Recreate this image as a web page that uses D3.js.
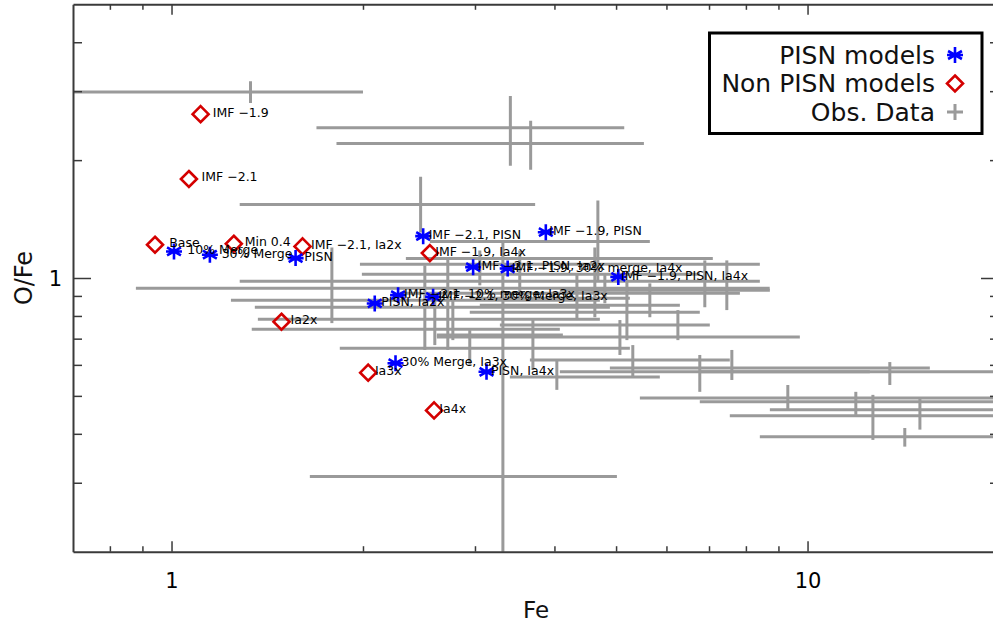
<!DOCTYPE html>
<html><head><meta charset="utf-8">
<script src="https://cdn.jsdelivr.net/npm/d3@7"></script>
<style>
body{margin:0;background:#fff;}
svg{display:block;}
text{font-family:'DejaVu Sans',sans-serif;}
</style>
</head><body>
<svg id="c" width="993" height="625"></svg>
<script>
// ---- Model data ----
const pisnFe   = [1.009, 1.149, 1.567, 2.487, 3.877, 2.98, 3.377, 5.04, 2.087, 2.271, 2.578, 2.25, 3.128];
const pisnOFe  = [1.169, 1.147, 1.124, 1.279, 1.309, 1.066, 1.057, 1.006, 0.861, 0.904, 0.895, 0.606, 0.576];
const pisnLabels = ["10% Merge", "30% Merge", "PISN", "IMF \u22122.1, PISN", "IMF \u22121.9, PISN",
  "IMF \u22122.1, PISN, Ia2x", "IMF \u22121.9, 30% merge, Ia4x", "IMF \u22121.9, PISN, Ia4x",
  "PISN, Ia2x", "IMF \u22122.1, 10% merge, Ia3x", "IMF \u22122.1, 30% Merge, Ia3x",
  "30% Merge, Ia3x", "PISN, Ia4x"];

const nonFe   = [1.111, 1.065, 0.942, 1.253, 1.607, 2.548, 1.489, 2.038, 2.587];
const nonOFe  = [2.62, 1.79, 1.216, 1.223, 1.204, 1.158, 0.773, 0.573, 0.459];
const nonLabels = ["IMF \u22121.9", "IMF \u22122.1", "Base", "Min 0.4", "IMF \u22122.1, Ia2x",
  "IMF \u22121.9, Ia4x", "Ia2x", "Ia3x", "Ia4x"];

// ---- Observational data: Fe (value, lower, upper), O/Fe (value, lower, upper) ----
const obsFe    = [1.331, 3.41, 3.67, 2.464, 1.787, 2.502, 2.719, 2.594, 2.769, 2.944, 3.528, 4.681, 4.630, 4.339, 4.801,
                  5.200, 5.650, 6.254, 6.894, 7.466, 5.070, 3.700, 4.035, 5.312, 6.770, 7.603, 9.311, 11.91, 12.67,
                  13.47, 14.22, 15.02, 3.319, 3.053];
const obsFeLo  = [0.60, 1.69, 1.817, 1.28, 0.879, 1.240, 1.352, 1.367, 1.337, 1.839, 1.992, 2.548, 2.336, 2.286, 2.944,
                  3.053, 2.944, 3.283, 1.280, 4.079, 2.613, 2.613, 3.404, 3.660, 4.079, 4.889, 5.450, 6.770, 7.547,
                  6.770, 8.414, 8.725, 1.650, 1.978];
const obsFeHi  = [2.00, 5.15, 5.53, 3.73, 8.72, 4.715, 4.889, 4.715, 4.079, 5.256, 6.770, 5.650, 7.097, 7.828, 5.256,
                  6.299, 6.770, 7.02, 8.414, 8.725, 9.725, 4.124, 5.858, 7.547, 12.53, 15.57, 20.8, 20.8, 20.8,
                  20.8, 20.8, 20.8, 5.015, 8.414];
const obsOFe   = [2.985, 2.418, 2.206, 1.54, 0.941, 0.878, 0.842, 0.785, 0.740, 0.662, 1.022, 1.240, 1.122, 0.914, 0.888,
                  0.852, 0.818, 0.758, 0.981, 0.930, 0.707, 0.715, 0.559, 0.617, 0.576, 0.589, 0.494, 0.483, 0.445,
                  0.576, 0.393, 0.461, 0.311, 1.084];
const obsOFeLo = [2.80, 1.936, 1.89, 1.307, 0.767, 0.655, 0.655, 0.674, 0.694, 0.600, 0.878, 0.987, 0.794, 0.781, 0.862,
                  0.694, 0.794, 0.694, 0.842, 0.828, 0.636, 0.582, 0.518, 0.556, 0.512, 0.549, 0.461, 0.447, 0.386,
                  0.533, 0.371, 0.410, 0.151, 0.958];
const obsOFeHi = [3.18, 2.917, 2.52, 1.815, 1.197, 1.077, 1.122, 0.904, 0.878, 0.736, 1.176, 1.577, 1.197, 1.028, 1.028,
                  0.987, 0.969, 0.828, 1.109, 1.109, 0.781, 0.781, 0.617, 0.674, 0.636, 0.655, 0.533, 0.512, 0.503,
                  0.610, 0.414, 0.494, 1.247, 1.176];

// ---- axis ticks ----
const xTicks = [0.8, 0.9, 1, 2, 3, 4, 5, 6, 7, 8, 9, 10, 20];
const xMajor = [1, 10];
const yTicks = [0.3, 0.4, 0.5, 0.6, 0.7, 0.8, 0.9, 1, 2, 3, 4];
const yMajor = [1];

const L = 73, R = 999, T = 4.3, B = 551.7;
const x = d3.scaleLog().domain([0.7, 20]).range([L, R]);
const y = d3.scaleLog().domain([0.2, 5]).range([B, T]);

const svg = d3.select("#c");
const axisColor = "#3a3a3a";
const grey = "#9a9a9a";

svg.append("defs").append("clipPath").attr("id", "clip")
  .append("rect").attr("x", L).attr("y", T).attr("width", R - L).attr("height", B - T);

const plot = svg.append("g").attr("clip-path", "url(#clip)");

// observational error bars
const obs = obsFe.map((v, i) => ({fe: v, lo: obsFeLo[i], hi: obsFeHi[i], o: obsOFe[i], olo: obsOFeLo[i], ohi: obsOFeHi[i]}));
plot.selectAll("line.h").data(obs).join("line").attr("class", "h")
  .attr("x1", d => x(d.lo)).attr("x2", d => x(d.hi))
  .attr("y1", d => y(d.o)).attr("y2", d => y(d.o))
  .attr("stroke", grey).attr("stroke-width", 3);
plot.selectAll("line.v").data(obs).join("line").attr("class", "v")
  .attr("x1", d => x(d.fe)).attr("x2", d => x(d.fe))
  .attr("y1", d => y(d.olo)).attr("y2", d => y(d.ohi))
  .attr("stroke", grey).attr("stroke-width", 3);

// axes
function styleAxis(g, majors, majLen, minLen, sign, horiz) {
  g.select(".domain").attr("stroke", axisColor).attr("stroke-width", 2);
  g.selectAll(".tick line").attr("stroke", axisColor).attr("stroke-width", 1.5)
    .each(function(d) {
      const len = (majors.includes(d) ? majLen : minLen) * sign;
      if (horiz) d3.select(this).attr("y2", len); else d3.select(this).attr("x2", len);
    });
}
const fmt = d => (d === 1 || d === 10) ? String(d) : "";
const gx = svg.append("g").attr("transform", `translate(0,${B})`)
  .call(d3.axisBottom(x).tickValues(xTicks).tickFormat(fmt).tickSizeOuter(0));
styleAxis(gx, xMajor, 10.5, 5.5, -1, true);
gx.selectAll(".tick text").attr("y", 21).attr("font-size", 21).attr("fill", "#000");

const gxt = svg.append("g").attr("transform", `translate(0,${T})`)
  .call(d3.axisTop(x).tickValues(xTicks).tickFormat("").tickSizeOuter(0));
styleAxis(gxt, xMajor, 10.5, 5.5, 1, true);

const gy = svg.append("g").attr("transform", `translate(${L},0)`)
  .call(d3.axisLeft(y).tickValues(yTicks).tickFormat(d => d === 1 ? "1" : "").tickSizeOuter(0));
styleAxis(gy, yMajor, 18, 9, 1, false);
gy.selectAll(".tick text").attr("x", -11).attr("font-size", 21).attr("fill", "#000").attr("dy", "0.35em");

const gyr = svg.append("g").attr("transform", `translate(${R},0)`)
  .call(d3.axisRight(y).tickValues(yTicks).tickFormat("").tickSizeOuter(0));
styleAxis(gyr, yMajor, 18, 9, -1, false);

// axis titles
svg.append("text").attr("x", (L + R) / 2).attr("y", 618).attr("text-anchor", "middle")
  .attr("font-size", 23).attr("fill", "#111").text("Fe");
svg.append("text").attr("transform", `translate(32,${(T + B) / 2}) rotate(-90)`).attr("text-anchor", "middle")
  .attr("font-size", 24).attr("fill", "#111").text("O/Fe");

// symbols
const starPath = r => {
  let p = "";
  [90, 30, -30, 0].forEach(a => {
    const t = a * Math.PI / 180, dx = r * Math.cos(t), dy = r * Math.sin(t);
    p += `M${-dx},${-dy}L${dx},${dy}`;
  });
  return p;
};
const diamondPath = r => `M0,${-r}L${r},0L0,${r}L${-r},0Z`;
const blue = "#0000ff", red = "#d40000";

const pisn = pisnFe.map((v, i) => ({fe: v, o: pisnOFe[i], label: pisnLabels[i]}));
const non = nonFe.map((v, i) => ({fe: v, o: nonOFe[i], label: nonLabels[i]}));

plot.selectAll("path.non").data(non).join("path").attr("class", "non")
  .attr("transform", d => `translate(${x(d.fe)},${y(d.o)})`)
  .attr("d", diamondPath(8)).attr("fill", "none").attr("stroke", red).attr("stroke-width", 2.6);
plot.selectAll("path.pisn").data(pisn).join("path").attr("class", "pisn")
  .attr("transform", d => `translate(${x(d.fe)},${y(d.o)})`)
  .attr("d", starPath(8)).attr("fill", "none").attr("stroke", blue).attr("stroke-width", 2.6);

const labelStyle = s => s.attr("font-size", 12.5).attr("fill", "#000");
plot.selectAll("text.nl").data(non).join("text").attr("class", "nl")
  .attr("x", d => x(d.fe + 0.05)).attr("y", d => y(d.o) + 2.5).text(d => d.label).call(labelStyle);
plot.selectAll("text.pl").data(pisn).join("text").attr("class", "pl")
  .attr("x", d => x(d.fe + 0.05)).attr("y", d => y(d.o) + 3).text(d => d.label).call(labelStyle);

// legend
const lg = svg.append("g");
lg.append("rect").attr("x", 709.5).attr("y", 33).attr("width", 272.5).attr("height", 100.5)
  .attr("fill", "#fff").attr("stroke", "#000").attr("stroke-width", 3);
const legendItems = ["PISN models", "Non PISN models", "Obs. Data"];
const legendY = [55, 83.5, 112];
legendItems.forEach((t, i) => {
  lg.append("text").attr("x", 935).attr("y", legendY[i]).attr("dy", "0.35em").attr("text-anchor", "end")
    .attr("font-size", 25).attr("fill", "#111").text(t);
});
lg.append("path").attr("transform", `translate(955,${legendY[0]})`).attr("d", starPath(8))
  .attr("stroke", blue).attr("stroke-width", 2.6).attr("fill", "none");
lg.append("path").attr("transform", `translate(955,${legendY[1]})`).attr("d", diamondPath(8))
  .attr("stroke", red).attr("stroke-width", 2.6).attr("fill", "none");
lg.append("path").attr("transform", `translate(955,${legendY[2]})`).attr("d", "M-8,0L8,0M0,-8L0,8")
  .attr("stroke", grey).attr("stroke-width", 3).attr("fill", "none");
</script>
</body></html>
